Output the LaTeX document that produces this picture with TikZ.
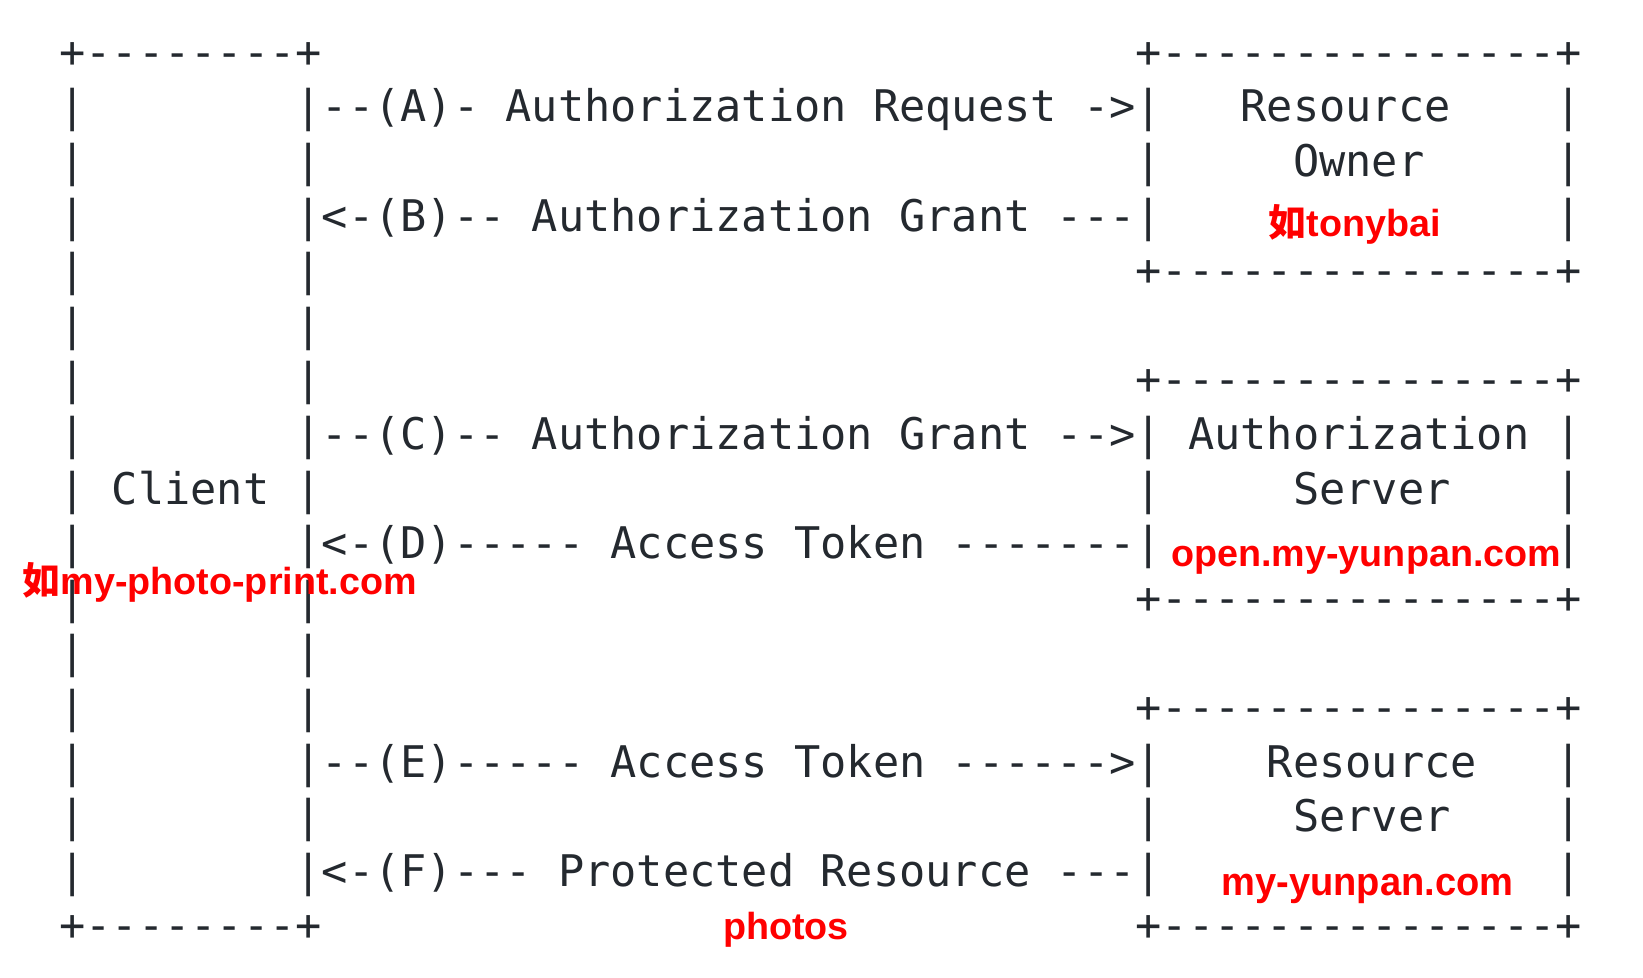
\documentclass[tikz,border=0pt]{standalone}
\usepackage{fontspec}
\newfontfamily\asciifont{DejaVu Sans Mono}[WordSpace={1,0,0}]
\newfontfamily\labelfont{Liberation Sans}
\newfontfamily\cjkfont{Noto Sans CJK SC}
\definecolor{ink}{HTML}{24292F}
\newcommand\ac[4]{\node[ascii] (#1) at ({-71.9+26.25*#2},{-67.3-54.6*#3}) {#4};}
\begin{document}
\begin{tikzpicture}[x=1pt,y=1pt,
  ascii/.style={anchor=base west, inner sep=0pt, outer sep=0pt, text=ink,
    font=\asciifont\fontsize{43.6}{54.6}\selectfont},
  note/.style={anchor=base west, inner sep=0pt, outer sep=0pt, text=red,
    font=\labelfont\bfseries\fontsize{37.7}{45}\selectfont}]
\useasboundingbox[fill=white] (0,0) rectangle (1643,-977);
\ac{r0a}{5}{0}{+--------+}
\ac{r0b}{46}{0}{+---------------+}
\ac{r1a}{5}{1}{|}
\ac{r1b}{14}{1}{|--(A)- Authorization Request ->|}
\ac{r1c}{50}{1}{Resource}
\ac{r1d}{62}{1}{|}
\ac{r2a}{5}{2}{|}
\ac{r2b}{14}{2}{|}
\ac{r2c}{46}{2}{|}
\ac{r2d}{52}{2}{Owner}
\ac{r2e}{62}{2}{|}
\ac{r3a}{5}{3}{|}
\ac{r3b}{14}{3}{|<-(B)-- Authorization Grant ---|}
\ac{r3c}{62}{3}{|}
\ac{r4a}{5}{4}{|}
\ac{r4b}{14}{4}{|}
\ac{r4c}{46}{4}{+---------------+}
\ac{r5a}{5}{5}{|}
\ac{r5b}{14}{5}{|}
\ac{r6a}{5}{6}{|}
\ac{r6b}{14}{6}{|}
\ac{r6c}{46}{6}{+---------------+}
\ac{r7a}{5}{7}{|}
\ac{r7b}{14}{7}{|--(C)-- Authorization Grant -->|}
\ac{r7c}{48}{7}{Authorization}
\ac{r7d}{62}{7}{|}
\ac{r8a}{5}{8}{|}
\ac{r8b}{7}{8}{Client}
\ac{r8c}{14}{8}{|}
\ac{r8d}{46}{8}{|}
\ac{r8e}{52}{8}{Server}
\ac{r8f}{62}{8}{|}
\ac{r9a}{5}{9}{|}
\ac{r9b}{14}{9}{|<-(D)----- Access Token -------|}
\ac{r9c}{62}{9}{|}
\ac{r10a}{5}{10}{|}
\ac{r10b}{14}{10}{|}
\ac{r10c}{46}{10}{+---------------+}
\ac{r11a}{5}{11}{|}
\ac{r11b}{14}{11}{|}
\ac{r12a}{5}{12}{|}
\ac{r12b}{14}{12}{|}
\ac{r12c}{46}{12}{+---------------+}
\ac{r13a}{5}{13}{|}
\ac{r13b}{14}{13}{|--(E)----- Access Token ------>|}
\ac{r13c}{51}{13}{Resource}
\ac{r13d}{62}{13}{|}
\ac{r14a}{5}{14}{|}
\ac{r14b}{14}{14}{|}
\ac{r14c}{46}{14}{|}
\ac{r14d}{52}{14}{Server}
\ac{r14e}{62}{14}{|}
\ac{r15a}{5}{15}{|}
\ac{r15b}{14}{15}{|<-(F)--- Protected Resource ---|}
\ac{r15c}{62}{15}{|}
\ac{r16a}{5}{16}{+--------+}
\ac{r16b}{46}{16}{+---------------+}
\node[note] (owner) at (1268.9,-236) {{\cjkfont\bfseries 如}tonybai};
\node[note] (authsrv) at (1171.4,-566) {open.my-yunpan.com};
\node[note] (client) at (23,-594.5) {{\cjkfont\bfseries 如}my-photo-print.com};
\node[note, xscale=1.01, yscale=1.05] (ressrv) at (1221.5,-895) {my-yunpan.com};
\node[note] (photos) at (723,-939) {photos};
\end{tikzpicture}
\end{document}
